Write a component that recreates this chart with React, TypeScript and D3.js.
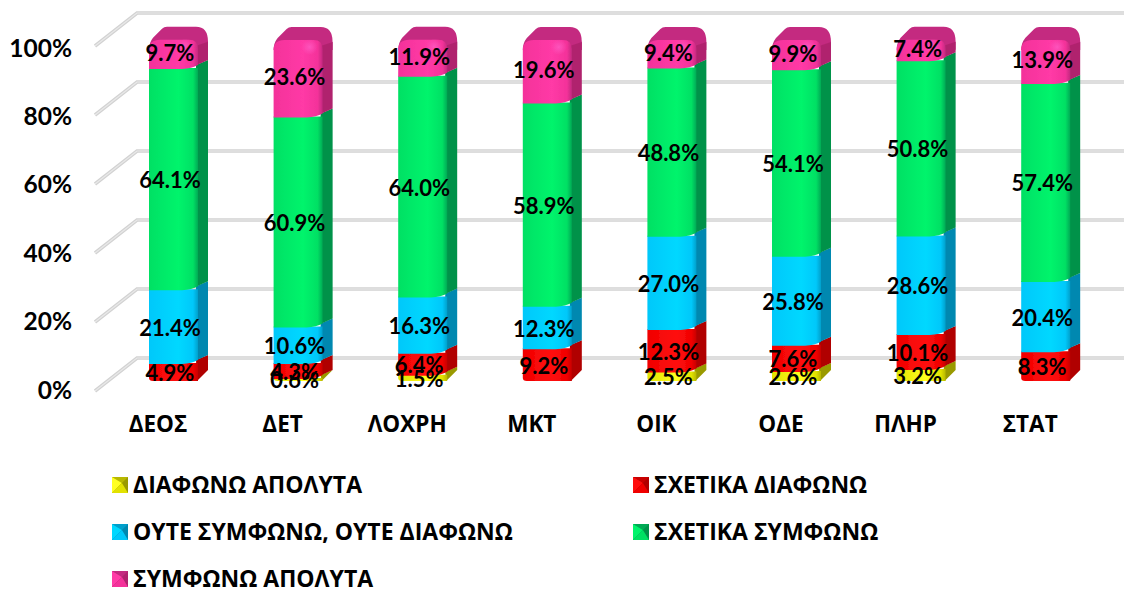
import React from "react";
import * as d3 from "d3";

const categories = ["ΔΕΟΣ", "ΔΕΤ", "ΛΟΧΡΗ", "ΜΚΤ", "ΟΙΚ", "ΟΔΕ", "ΠΛΗΡ", "ΣΤΑΤ"];
const seriesNames = ["ΔΙΑΦΩΝΩ ΑΠΟΛΥΤΑ", "ΣΧΕΤΙΚΑ ΔΙΑΦΩΝΩ", "ΟΥΤΕ ΣΥΜΦΩΝΩ, ΟΥΤΕ ΔΙΑΦΩΝΩ", "ΣΧΕΤΙΚΑ ΣΥΜΦΩΝΩ", "ΣΥΜΦΩΝΩ ΑΠΟΛΥΤΑ"];
const disagreeFully = [0, 0.6, 1.5, 0, 2.5, 2.6, 3.2, 0];
const disagree = [4.9, 4.3, 6.4, 9.2, 12.3, 7.6, 10.1, 8.3];
const neutral = [21.4, 10.6, 16.3, 12.3, 27.0, 25.8, 28.6, 20.4];
const agree = [64.1, 60.9, 64.0, 58.9, 48.8, 54.1, 50.8, 57.4];
const agreeFully = [9.7, 23.6, 11.9, 19.6, 9.4, 9.9, 7.4, 13.9];
const seriesValues = [disagreeFully, disagree, neutral, agree, agreeFully];
const ticks = [0, 20, 40, 60, 80, 100];

const front = ["#e2e200", "#f00000", "#00c8fa", "#00e064", "#f4329a"];
const light = ["#ffff20", "#ff1010", "#00d8ff", "#00f46c", "#ff3aa6"];
const side = ["#9a9a00", "#b00000", "#0088b0", "#00924a", "#b0246e"];
const cap = ["#b8b800", "#c80000", "#00a0cc", "#00aa55", "#c42a80"];

const NUM = "Lato, 'Open Sans', sans-serif";
const GREEK = "'Open Sans', sans-serif";
const DX = 10, DY = 9, BW = 49;
const step = 124.6;
const x = d3.scaleBand<string>().domain(categories)
  .range([149 - (step - BW) / 2, 149 - (step - BW) / 2 + step * 8])
  .paddingInner(1 - BW / step).paddingOuter((1 - BW / step) / 2);
const yBar = d3.scaleLinear().domain([0, 100]).range([381, 36]);
const yGrid = d3.scaleLinear().domain([0, 100]).range([391, 46]);
const yTickLabel = d3.scaleLinear().domain([0, 100]).range([389, 47]);
const stacks = categories.map((_, c) => {
  let acc = 0;
  return seriesValues.map((s) => { const a = acc; acc += s[c]; return [a, acc]; });
});

function segPaths(l: number, y0: number, y1: number, isBottom: boolean, isTop: boolean) {
  const r = l + BW;
  const topF = isTop
    ? `M${l},${y1 + 14} Q${l},${y1 + 4} ${l + 11},${y1 + 4} L${r - 9},${y1 + 4} Q${r},${y1 + 4} ${r},${y1 + 13}`
    : `M${l},${y1 - 1} L${r},${y1 - 1}`;
  const f = isBottom
    ? `${topF} L${r},${y0} L${r - 2},${y0} L${l + 4},${y0} Q${l},${y0} ${l},${y0 - 3} Z`
    : `${topF} L${r},${y0 - 4} Q${r - 6},${y0 - 0.5} ${r - 16},${y0} L${l},${y0} Z`;
  const sdBottom = isBottom ? `L${r + DX},${y0 - DY - 2} L${r - 1},${y0}` : `L${r + DX},${y0 - DY} L${r - 1},${y0 - 4}`;
  const sd = isTop
    ? `M${r - 2},${y1 + 10} L${r + DX},${y1 + 6} ${sdBottom} Z`
    : `M${r - 2},${y1 - 4} L${r + DX},${y1 - DY} ${sdBottom} Z`;
  const c = `M${l},${y1 + 14} Q${l},${y1 + 7} ${l + 4},${y1 + 2} L${l + 13},${y1 - 7} Q${l + 15},${y1 - 9} ${l + 18},${y1 - 9} L${r - 2},${y1 - 9} Q${r + DX},${y1 - 9} ${r + DX},${y1 + 6} L${r + DX},${y1 + 14} L${r},${y1 + 14} Z`;
  return { f, sd, c };
}

export default function App() {
  return (
    <svg width={1124} height={589} style={{ position: "absolute", left: 0, top: 0, background: "#fff" }}>
      <defs>
        {front.map((col, i) => (
          <linearGradient key={i} id={`g${i}`} x1="0" x2="1" y1="0" y2="0">
            <stop offset="0" stopColor={col} />
            <stop offset="0.6" stopColor={light[i]} />
            <stop offset="0.9" stopColor={col} />
            <stop offset="1" stopColor={cap[i]} />
          </linearGradient>
        ))}
        <radialGradient id="hi"><stop offset="0" stopColor="#ff60c8" stopOpacity={0.7} /><stop offset="1" stopColor="#ff60c8" stopOpacity={0} /></radialGradient>
        <filter id="soft" x="-10%" y="-10%" width="120%" height="120%"><feGaussianBlur stdDeviation="0.7" /></filter>
      </defs>
      <g>
        {ticks.map((t) => {
          const yf = yGrid(t);
          const pts = `95,${yf} 137,${yf - 33} 1124,${yf - 33}`;
          return (
            <g key={t} fill="none">
              <polyline points={pts} stroke="#d2d2d2" strokeWidth={3.6} />
              <polyline points={pts} stroke="#e9e9e9" strokeWidth={1.2} />
            </g>
          );
        })}
      </g>
      {ticks.map((t) => (
        <text key={t} x={72} y={yTickLabel(t)} textAnchor="end" dominantBaseline="central" fontFamily={NUM} fontWeight={700} fontSize={24.5} fill="#000">{t}%</text>
      ))}
      <g filter="url(#soft)">
        {categories.map((cat, c) => {
          const l = x(cat)!;
          const nonZero = stacks[c].map((_, i) => i).filter((i) => seriesValues[i][c] > 0);
          const firstI = nonZero[0];
          return (
            <g key={cat}>
              {nonZero.map((i) => {
                const y0 = yBar(stacks[c][i][0]);
                const y1 = yBar(stacks[c][i][1]);
                const isTop = i === 4;
                const p = segPaths(l, y0, y1, i === firstI, isTop);
                return (
                  <g key={i}>
                    {isTop && <path d={p.c} fill={cap[i]} />}
                    <path d={p.sd} fill={side[i]} />
                    <path d={p.f} fill={`url(#g${i})`} />
                    {isTop && <ellipse cx={l + 36} cy={y1 + 11} rx={8} ry={8} fill="url(#hi)" />}
                  </g>
                );
              })}
            </g>
          );
        })}
      </g>
      {categories.map((cat, c) =>
        seriesValues.map((s, i) =>
          s[c] > 0 ? (
            <text key={`${c}-${i}`} x={x(cat)! + 21} y={yBar((stacks[c][i][0] + stacks[c][i][1]) / 2)} textAnchor="middle" dominantBaseline="central" fontFamily={NUM} fontWeight={700} fontSize={22} fill="#000">
              {s[c].toFixed(1)}%
            </text>
          ) : null
        )
      )}
      {categories.map((cat) => (
        <text key={cat} x={x(cat)! + 9} y={423} textAnchor="middle" dominantBaseline="central" fontFamily={GREEK} fontWeight={700} fontSize={22.5} fill="#000">{cat}</text>
      ))}
      {seriesNames.map((name, i) => {
        const col = i % 2;
        const row = Math.floor(i / 2);
        const sx = col === 0 ? 112 : 633;
        const sy = 477 + row * 47;
        const S = 16;
        const cx = sx + S * 0.62, cy = sy + S * 0.38;
        return (
          <g key={name}>
            <g filter="url(#soft)">
              <rect x={sx} y={sy} width={S} height={S} fill={side[i]} />
              <polygon points={`${sx},${sy} ${sx + S},${sy} ${cx},${cy}`} fill={cap[i]} />
              <polygon points={`${sx},${sy} ${cx},${cy} ${sx},${sy + S}`} fill={light[i]} />
              <polygon points={`${sx},${sy + S} ${cx},${cy} ${sx + S},${sy + S}`} fill={front[i]} />
            </g>
            <text x={sx + 21} y={sy + 7} dominantBaseline="central" fontFamily={GREEK} fontWeight={700} fontSize={23} fill="#000">{name}</text>
          </g>
        );
      })}
    </svg>
  );
}
